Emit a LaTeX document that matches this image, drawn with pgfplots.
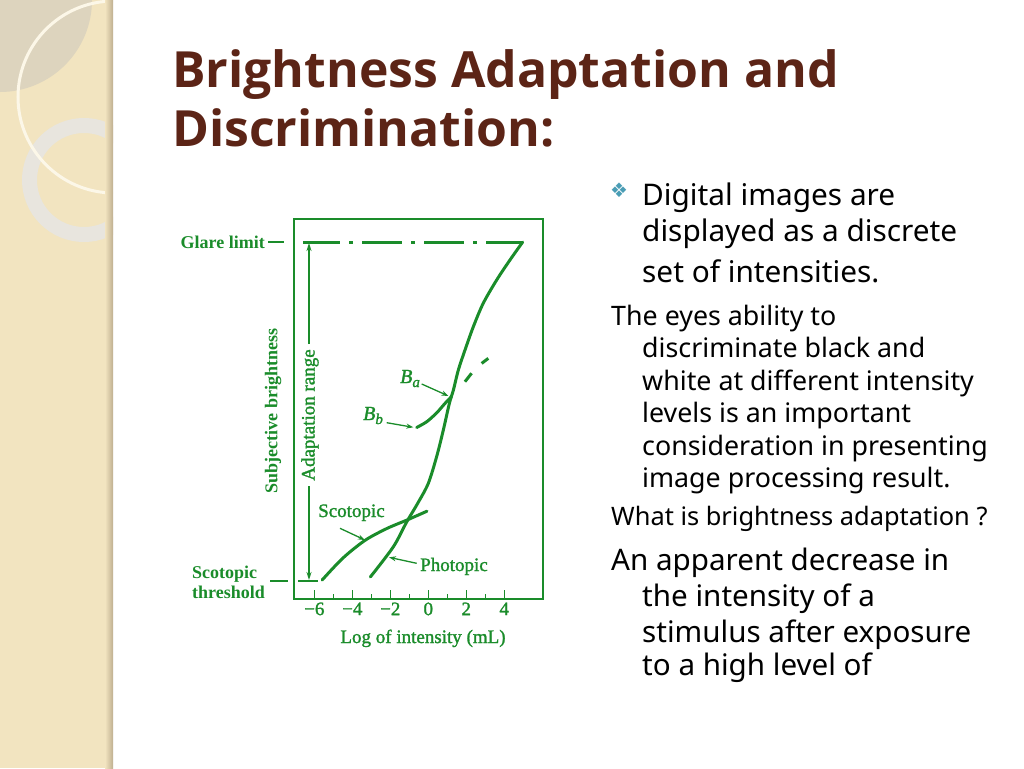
\documentclass[border=0pt]{standalone}
\usepackage{fontspec}
\setmainfont{Noto Sans}
\newfontfamily\titlefont{Open Sans}
\newfontfamily\chartfont{Liberation Serif}
\newfontfamily\chartfontr{Liberation Serif}[FakeBold=1.4]
\newfontfamily\symfont{DejaVu Sans}
\usepackage{pgfplots}
\pgfplotsset{compat=1.18}
\usetikzlibrary{arrows.meta}
\definecolor{cg}{HTML}{1A8C2A}
\definecolor{titlebrown}{HTML}{5C2416}
\definecolor{band}{HTML}{F2E4C0}
\definecolor{circfill}{HTML}{DDD4BE}
\definecolor{ringgray}{HTML}{E8E5DE}
\definecolor{cream}{HTML}{FCF7E8}
\definecolor{shadowc}{HTML}{BFAF90}
\definecolor{bullet}{HTML}{4A9DB5}
\begin{document}
\begin{tikzpicture}
\useasboundingbox (0,0) rectangle (1024pt,-768pt);
\begin{scope}[x=1pt,y=-1pt]
\fill[white] (0,0) rectangle (1024,768);
\begin{scope}
\clip (0,0) rectangle (113,768);
\fill[band] (0,0) rectangle (113,768);
\fill[circfill] (0,0) circle (92pt);
\draw[ringgray, line width=15pt] (84,180) circle (54.5pt);
\draw[cream, line width=3pt] (114,97) circle (96pt);
\end{scope}
\shade[left color=band, right color=shadowc] (105,0) rectangle (113,768);
\end{scope}

\begin{axis}[at={(294pt,-599pt)}, anchor=south west, scale only axis,
  width=249pt, height=380pt,
  xmin=-7.07, xmax=6.04, ymin=-0.53, ymax=10.68,
  clip=false,
  axis line style={cg, line width=2pt},
  ytick=\empty,
  xtick={-6,-4,-2,0,2,4},
  xticklabels={−6,−4,−2,0,2,4},
  minor xtick={-5,-3,-1,1,3},
  tick align=inside, xtick pos=left,
  major tick length=9pt, minor tick length=5pt,
  tick style={cg, line width=1.5pt},
  ticklabel style={font=\chartfontr\fontsize{19}{20}\selectfont, text=cg},
]
% glare limit
\addplot[cg, line width=3pt, dash pattern=on 40pt off 9pt on 4pt off 9pt, dash phase=3pt] coordinates {(-6.59,10) (4.97,10)};
% photopic
\addplot[cg, line width=3pt, smooth, line cap=round] coordinates {
(-3.05,0.12) (-1.84,1.01) (-1.14,1.74) (-0.55,2.30) (0.0,2.88) (0.44,3.67)
(0.79,4.45) (1.11,5.24) (1.32,5.63) (1.58,6.22) (1.93,6.81) (2.37,7.50)
(2.89,8.19) (3.60,8.88) (4.30,9.47) (4.97,10.0)};
% scotopic
\addplot[cg, line width=3pt, smooth, line cap=round] coordinates {
(-5.59,0.03) (-4.49,0.68) (-3.33,1.20) (-2.18,1.55) (-1.12,1.80) (-0.07,2.06)};
% Bb curve
\addplot[cg, line width=3pt, smooth, line cap=round] coordinates {
(-0.61,4.53) (-0.08,4.70) (0.44,4.96) (0.88,5.24) (1.22,5.44)};
% dashed continuation
\addplot[cg, line width=3pt] coordinates {(1.93,5.88) (2.28,6.13)};
\addplot[cg, line width=3pt] coordinates {(2.81,6.42) (3.16,6.57)};
\end{axis}

\begin{scope}[x=1pt,y=-1pt, every node/.append style={inner sep=0pt}]
% title
\node[anchor=base west, text=titlebrown, font=\titlefont\bfseries\fontsize{49.9}{56}\selectfont] at (172,87) {Brightness Adaptation and};
\node[anchor=base west, text=titlebrown, font=\titlefont\bfseries\fontsize{49.9}{56}\selectfont] at (172,146) {Discrimination:};
% bullet
\node[text=bullet, font=\symfont\fontsize{20}{22}\selectfont] at (619,190) {❖};
% body
\begin{scope}[every node/.append style={anchor=base west, font=\fontsize{29.8}{32}\selectfont}]
\node at (642,205) {Digital images are};
\node at (642,241) {displayed as a discrete};
\node at (642,282) {set of intensities.};
\end{scope}
\begin{scope}[every node/.append style={anchor=base west, font=\fontsize{26.8}{28}\selectfont}]
\node at (611,325) {The eyes ability to};
\node at (642,357) {discriminate black and};
\node at (642,390) {white at different intensity};
\node at (642,422) {levels is an important};
\node at (642,455) {consideration in presenting};
\node at (642,487) {image processing result.};
\end{scope}
\node[anchor=base west, font=\fontsize{25.4}{27}\selectfont] at (611,525) {What is brightness adaptation ?};
\begin{scope}[every node/.append style={anchor=base west, font=\fontsize{29.6}{31}\selectfont}]
\node at (611,570) {An apparent decrease in};
\node at (642,606) {the intensity of a};
\node at (642,642) {stimulus after exposure};
\node at (642,675) {to a high level of};
\end{scope}

% chart annotations
\begin{scope}[every node/.append style={text=cg}]
\node[anchor=base east, font=\chartfont\bfseries\fontsize{18}{20}\selectfont] at (265,248) {Glare limit};
\draw[cg, line width=2pt] (268,242) -- (284,242);
\node[anchor=base west, font=\chartfont\bfseries\fontsize{18}{20}\selectfont] at (192,578) {Scotopic};
\node[anchor=base west, font=\chartfont\bfseries\fontsize{18}{20}\selectfont] at (192,598) {threshold};
\draw[cg, line width=2pt] (270,581) -- (288,581);
\node[rotate=90, font=\chartfont\bfseries\fontsize{18}{20}\selectfont] at (273,411) {Subjective brightness};
\node[rotate=90, font=\chartfontr\fontsize{19}{20}\selectfont] at (310,415) {Adaptation range};
\draw[cg, line width=1.5pt, -{Stealth[length=8pt,width=5pt]}] (309,344) -- (309,243);
\draw[cg, line width=1.5pt, -{Stealth[length=8pt,width=5pt]}] (309,486) -- (309,580);
\draw[cg, line width=2pt] (298,581) -- (318,581);
\node[anchor=base west, font=\chartfontr\itshape\fontsize{20}{22}\selectfont] at (400,383) {B\raisebox{-4pt}{\fontsize{15}{15}\selectfont a}};
\node[anchor=base west, font=\chartfontr\itshape\fontsize{20}{22}\selectfont] at (363,420) {B\raisebox{-4pt}{\fontsize{15}{15}\selectfont b}};
\draw[cg, line width=1.3pt, -{Stealth[length=7pt,width=5pt]}] (421.7,384) -- (448.5,396);
\draw[cg, line width=1.3pt, -{Stealth[length=7pt,width=5pt]}] (386.7,422.7) -- (413.3,427.3);
\node[anchor=base west, font=\chartfontr\fontsize{19}{20}\selectfont] at (318,517) {Scotopic};
\draw[cg, line width=1.3pt, -{Stealth[length=7pt,width=5pt]}] (340,528.3) -- (365,540);
\node[anchor=base west, font=\chartfontr\fontsize{19}{20}\selectfont] at (420,571) {Photopic};
\draw[cg, line width=1.3pt, -{Stealth[length=7pt,width=5pt]}] (416.7,563.3) -- (389,557.3);
\node[anchor=base, font=\chartfontr\fontsize{19}{20}\selectfont] at (423,643) {Log of intensity (mL)};
\end{scope}
\end{scope}
\end{tikzpicture}
\end{document}
